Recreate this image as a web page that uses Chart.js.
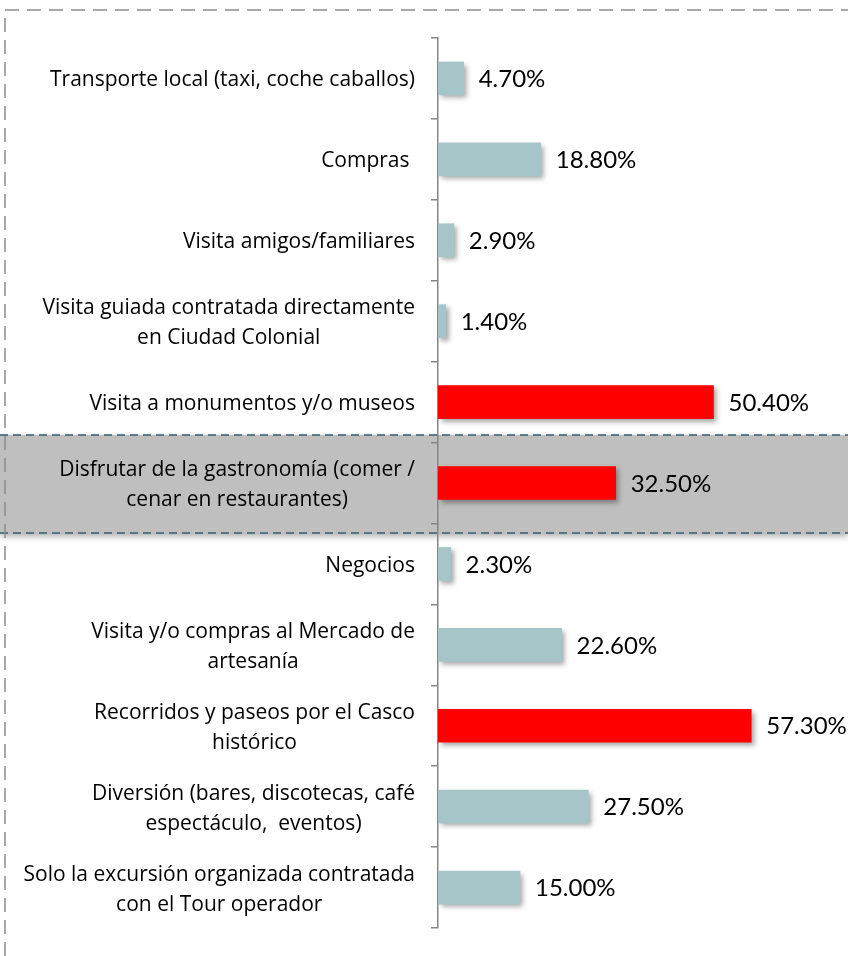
<!DOCTYPE html>
<html lang="es">
  <head>
    <meta charset="UTF-8">
    <title>Actividades realizadas</title>
    <script src="https://cdn.jsdelivr.net/npm/chart.js@4.4.6/dist/chart.umd.min.js"></script>
    <style>
      html, body { margin: 0; padding: 0; background: #fff; }
      #wrap { width: 848px; height: 956px; position: relative; }
    </style>
  </head>
  <body>
    <div id="wrap"><canvas id="chart"></canvas></div>
    <script>
      // categories (multi-line ones as arrays)
      const categories = [
        "Transporte local (taxi, coche caballos)",
        "Compras ",
        "Visita amigos/familiares",
        ["Visita guiada contratada directamente", "en Ciudad Colonial"],
        "Visita a monumentos y/o museos",
        ["Disfrutar de la gastronomía (comer /", "cenar en restaurantes)"],
        "Negocios",
        ["Visita y/o compras al Mercado de", "artesanía"],
        ["Recorridos y paseos por el Casco", "histórico"],
        ["Diversión (bares, discotecas, café", "espectáculo,  eventos)"],
        ["Solo la excursión organizada contratada", "con el Tour operador"]
      ];
      const values = [4.7, 18.8, 2.9, 1.4, 50.4, 32.5, 2.3, 22.6, 57.3, 27.5, 15.0];
      const highlighted = [false, false, false, false, true, true, false, false, true, false, false];
      const bandIndex = 5;

      const TEAL = "#a5c5c8";
      const RED = "#ff0000";
      const AXIS = "#868686";
      const LABEL_FONT = "21px 'Open Sans', Lato, sans-serif";
      const VALUE_FONT = "24px Lato, 'Open Sans', sans-serif";

      const decor = {
        id: "decor",
        beforeDraw(chart) {
          const ctx = chart.ctx;
          const y = chart.scales.y.getPixelForValue(bandIndex);
          const top = y - 48, bottom = y + 50;
          ctx.save();
          ctx.shadowColor = "rgba(0,0,0,0.35)";
          ctx.shadowBlur = 7;
          ctx.shadowOffsetY = 3;
          ctx.fillStyle = "#bfbfbf";
          ctx.fillRect(0, top, chart.width, bottom - top);
          ctx.restore();
          ctx.save();
          ctx.strokeStyle = "#35606f";
          ctx.lineWidth = 1.5;
          ctx.setLineDash([8, 5]);
          ctx.beginPath();
          ctx.moveTo(0, top); ctx.lineTo(chart.width, top);
          ctx.moveTo(0, bottom); ctx.lineTo(chart.width, bottom);
          ctx.stroke();
          ctx.restore();
        },
        beforeDatasetsDraw(chart) {
          const ctx = chart.ctx;
          ctx.save();
          ctx.shadowColor = "rgba(0,0,0,0.35)";
          ctx.shadowBlur = 5;
          ctx.shadowOffsetX = 3;
          ctx.shadowOffsetY = 3;
        },
        afterDatasetsDraw(chart) {
          const ctx = chart.ctx;
          ctx.restore();
          // value labels
          const meta = chart.getDatasetMeta(0);
          ctx.save();
          ctx.fillStyle = "#000";
          ctx.font = VALUE_FONT;
          ctx.textBaseline = "middle";
          ctx.textAlign = "left";
          meta.data.forEach((bar, i) => {
            ctx.fillText(values[i].toFixed(2) + "%", bar.x + 15, bar.y + 1);
          });
          ctx.restore();
        },
        afterDraw(chart) {
          const ctx = chart.ctx;
          const yScale = chart.scales.y;
          const right = chart.chartArea.left - 23;
          ctx.save();
          ctx.fillStyle = "#000";
          ctx.font = LABEL_FONT;
          ctx.textBaseline = "middle";
          ctx.textAlign = "center";
          categories.forEach((lab, i) => {
            const lines = Array.isArray(lab) ? lab : [lab];
            const w = Math.max(...lines.map(l => ctx.measureText(l).width));
            const cx = right - w / 2;
            const cy = yScale.getPixelForValue(i) + 2;
            lines.forEach((l, k) => {
              ctx.fillText(l, cx, cy + (k - (lines.length - 1) / 2) * 30);
            });
          });
          ctx.restore();
          // outer dashed frame (top and left)
          ctx.save();
          ctx.strokeStyle = "#8c8c8c";
          ctx.lineWidth = 1.5;
          ctx.setLineDash([14, 8]);
          ctx.beginPath();
          ctx.moveTo(5, chart.height);
          ctx.lineTo(5, 10);
          ctx.lineTo(chart.width, 10);
          ctx.stroke();
          ctx.restore();
        }
      };

      new Chart(document.getElementById("chart"), {
        type: "bar",
        data: {
          labels: categories,
          datasets: [{
            data: values,
            backgroundColor: highlighted.map(h => (h ? RED : TEAL)),
            borderWidth: 0,
            barThickness: 33
          }]
        },
        options: {
          indexAxis: "y",
          responsive: true,
          maintainAspectRatio: false,
          animation: false,
          layout: { padding: { top: 38, bottom: 28, left: 0, right: 0 } },
          plugins: { legend: { display: false }, tooltip: { enabled: false } },
          scales: {
            x: { display: false, min: 0, max: 75 },
            y: {
              ticks: { display: false },
              grid: { offset: true, drawOnChartArea: false, tickLength: 7, color: AXIS, lineWidth: 1.5 },
              border: { color: AXIS, width: 1.5 },
              afterFit(scale) { scale.width = 438; }
            }
          }
        },
        plugins: [decor]
      });
    </script>
  </body>
</html>
